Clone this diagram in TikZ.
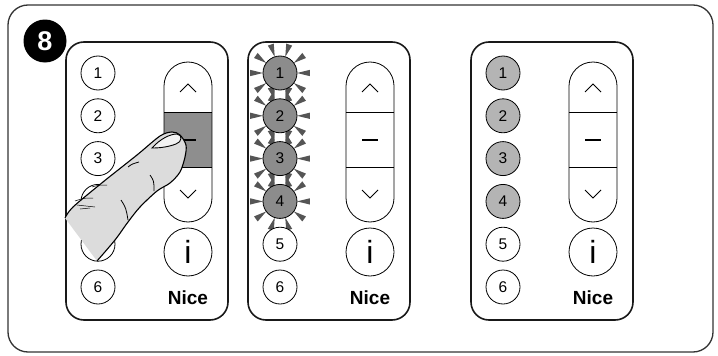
\documentclass[tikz,border=0pt]{standalone}
\usepackage{fontspec}
\setmainfont{Liberation Sans}

\definecolor{frame}{HTML}{333333}
\definecolor{litdark}{HTML}{8C8C8C}
\definecolor{litpale}{HTML}{B4B4B4}
\definecolor{rocker}{HTML}{8E8E8E}
\definecolor{ray}{HTML}{555555}
\definecolor{skin}{HTML}{DCDCDC}
\definecolor{nail}{HTML}{F2F2F2}

\tikzset{
    body/.style={draw=black!90,line width=1.6pt,rounded corners=18pt},
    key/.style={circle,draw,line width=0.8pt,minimum size=34pt,inner sep=0pt,
        font=\fontsize{15.5}{15.5}\selectfont},
    infokey/.style={circle,draw,line width=0.8pt,minimum size=48pt,inner sep=0pt,
        font=\fontsize{32}{32}\selectfont},
    brand/.style={font=\fontsize{19}{19}\selectfont\bfseries},
    thinline/.style={line width=0.8pt},
    sign/.style={line width=1pt},
}

\newcommand{\Remote}[4]{%
    \begin{scope}[shift={(#1,0)}]
    \draw[body] (0,42) rectangle (162,320);
    \foreach \n/\c in {1/#3,2/#3,3/#3,4/#3,5/white,6/white}
        \node[key,fill=\c] (#2\n) at (32,{73+42.8*(\n-1)}) {\n};
    \fill[#4] (98,112) rectangle (146,167);
    \draw[thinline,rounded corners=24pt] (98,62) rectangle (146,222);
    \draw[thinline] (98,112) -- (146,112);
    \draw[thinline] (98,167) -- (146,167);
    \draw[sign] (114,92) -- (122,84) -- (130,92);
    \draw[line width=1.6pt] (114,140) -- (130,140);
    \draw[sign] (114,190) -- (122,198) -- (130,190);
    \node[infokey] (#2i) at (122,252) {i};
    \node[brand] (#2nice) at (122,298) {Nice};
    \end{scope}
}

\newcommand{\Rays}[2]{%
    \foreach \a in {0,36,...,324}
        \fill[ray] ([shift={(\a:17)}]#1,#2) -- ([shift={(\a+6:30)}]#1,#2)
            -- ([shift={(\a-6:30)}]#1,#2) -- cycle;
}

\begin{document}
\begin{tikzpicture}[x=1pt,y=-1pt]
        \useasboundingbox (0,0) rectangle (718,356);
        \draw[frame,line width=1.3pt,rounded corners=20pt] (8,5) rectangle (713,352);
        \node[circle,fill=black,minimum size=43pt,inner sep=0pt,text=white,
            font=\fontsize{27}{27}\selectfont\bfseries] (step8) at (45,41) {8};

        \Remote{66}{a}{white}{rocker};
        \Rays{280}{73}
        \Rays{280}{115.8}
        \Rays{280}{158.6}
        \Rays{280}{201.4}
        \Remote{248}{b}{litdark}{white};
        \Remote{471}{c}{litpale}{white};

        \fill[skin] plot[smooth] coordinates {(97,261) (115,240) (128,222) (140,207)
            (157,191) (170,183) (180,172) (185,157) (186,145) (180,135) (172,132)
            (160,136) (137,155) (103,182) (73,207) (65,218)} -- cycle;
        \draw[line width=1.1pt] plot[smooth] coordinates {(97,261) (115,240) (128,222)
            (140,207) (157,191) (170,183) (180,172) (185,157) (186,145) (180,135)
            (172,132) (160,136) (137,155) (103,182) (73,207) (65,218)};
        \filldraw[fill=nail,line width=0.9pt] (152,148) .. controls (160,139) and (170,134) .. (177,134)
            .. controls (183,135) and (182,142) .. (176,144)
            .. controls (168,147) and (160,148) .. (152,148) -- cycle;
        \draw[thinline] (128,167) .. controls (132,164) .. (139,162);
        \draw[thinline] (150,175) .. controls (154,181) .. (154,191);
        \draw[thinline] (121,200) .. controls (126,208) .. (128,220);
        \draw[line width=0.5pt] (92,187) .. controls (99,185) .. (107,185);
        \draw[line width=0.5pt] (75,201) .. controls (84,198) .. (93,198);
        \draw[line width=0.5pt] (77,205) .. controls (86,206) .. (95,207);
        \draw[line width=0.5pt] (80,209) .. controls (85,209) .. (90,208);
    \end{tikzpicture}
\end{document}
